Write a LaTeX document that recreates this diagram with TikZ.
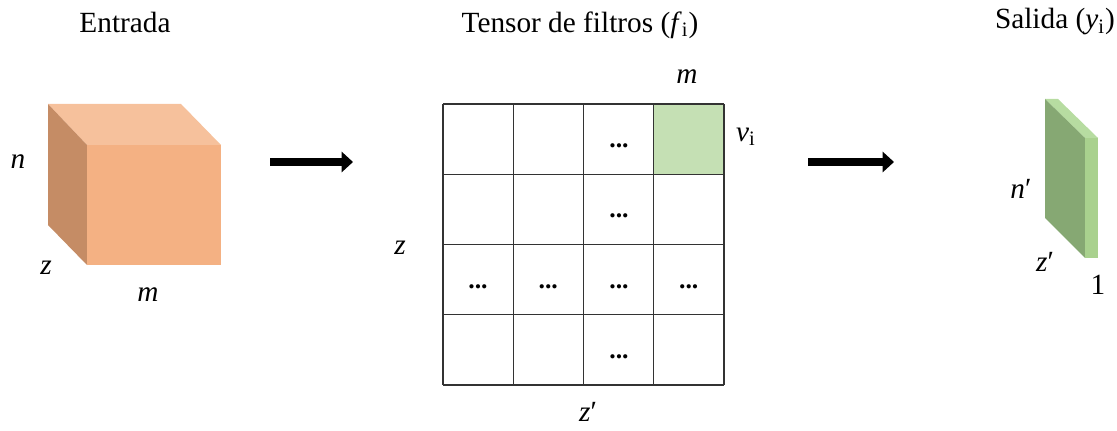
\documentclass[tikz,border=0pt]{standalone}
\usepackage{fontspec}
\setmainfont{Liberation Serif}
\usetikzlibrary{arrows.meta}
\definecolor{cubefront}{HTML}{F4B183}
\definecolor{cubetop}{HTML}{F6C19C}
\definecolor{cubeside}{HTML}{C58C65}
\definecolor{cellgreen}{HTML}{C5E0B4}
\definecolor{slabside}{HTML}{86A873}
\definecolor{slabfront}{HTML}{A9D18E}
\definecolor{slabtop}{HTML}{B7DCA1}
\tikzset{
	txt/.style={font=\fontsize{12.5}{15}\selectfont, inner sep=1pt},
	dots/.style={font=\fontsize{11}{13}\selectfont\bfseries, inner sep=0pt},
	bigarrow/.style={line width=3.2pt, -{Triangle[length=0.17cm, width=0.3cm]}}
}
\begin{document}
\begin{tikzpicture}[x=0.015cm, y=-0.015cm]
	\useasboundingbox (0, 0) rectangle (1117, 431);
	% input cube
	\fill[cubetop] (48, 104) -- (181, 104) -- (221, 145) -- (87, 145) -- cycle;
	\fill[cubeside] (48, 104) -- (87, 145) -- (87, 265) -- (48, 225) -- cycle;
	\fill[cubefront] (87, 145) rectangle (221, 265);
	\node[txt] (title-in) at (125, 22) {Entrada};
	\node[txt] (lab-n) at (18, 162) {\textit{n}};
	\node[txt] (lab-z) at (46, 268) {\textit{z}};
	\node[txt] (lab-m) at (148, 295) {\textit{m}};
	% filter tensor
	\fill[cellgreen] (654, 104) rectangle (724, 175);
	\foreach \i in {0, 1, ..., 4}{
		\draw[black!80, line width=0.6pt] (443 + \i*70.25, 104) -- (443 + \i*70.25, 385);
		\draw[black!80, line width=0.6pt] (443, 104 + \i*70.25) -- (724, 104 + \i*70.25);
	}
	\foreach \r in {0, 1, 2, 3}{
		\node[dots] (dot-\r) at (619, 146 + \r*70.25) {...};
	}
	\foreach \c in {0, 1, 3}{
		\node[dots] (dotrow-\c) at (478 + \c*70.25, 286.5) {...};
	}
	\node[txt] (title-f) at (580, 25) {Tensor de filtros (\textit{f}\textsubscript{i})};
	\node[txt] (lab-fm) at (687, 77) {\textit{m}};
	\node[txt] (lab-v) at (746, 137) {\textit{v}\textsubscript{i}};
	\node[txt] (lab-fz) at (400, 248) {\textit{z}};
	\node[txt] (lab-fz2) at (588, 412) {\textit{z}′};
	% output slab
	\fill[slabtop] (1045, 99) -- (1058, 99) -- (1098, 138) -- (1085, 138) -- cycle;
	\fill[slabside] (1045, 99) -- (1085, 138) -- (1085, 258) -- (1045, 218) -- cycle;
	\fill[slabfront] (1085, 138) rectangle (1098, 258);
	\node[txt] (title-out) at (1055, 22) {Salida (\textit{y}\textsubscript{i})};
	\node[txt] (lab-n2) at (1021, 189) {\textit{n}′};
	\node[txt] (lab-z2) at (1045, 262) {\textit{z}′};
	\node[txt] (lab-one) at (1098, 285) {1};
	% arrows
	\coordinate (a1s) at (270, 162);
	\coordinate (a1e) at (353, 162);
	\coordinate (a2s) at (808, 162);
	\coordinate (a2e) at (894, 162);
	\draw[bigarrow] (a1s) -- (a1e);
	\draw[bigarrow] (a2s) -- (a2e);
\end{tikzpicture}
\end{document}
